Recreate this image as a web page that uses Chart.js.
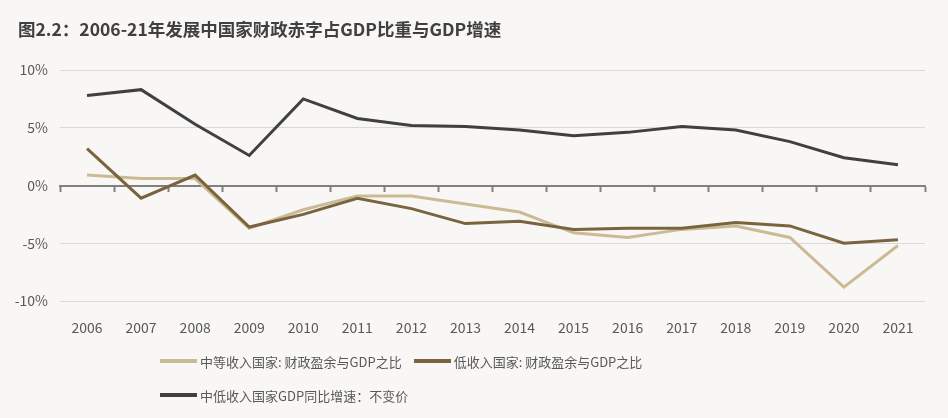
<!DOCTYPE html>
<html>
<head>
<meta charset="utf-8">
<script src="https://cdn.jsdelivr.net/npm/chart.js@4.4.0/dist/chart.umd.min.js"></script>
<style>
  html, body { margin: 0; padding: 0; background: #f8f7f5; }
  #wrap { position: relative; width: 948px; height: 418px; overflow: hidden; }
  #title { position: absolute; left: 18px; top: 16px; font: bold 17.5px "Noto Sans CJK SC", sans-serif; color: #404040; white-space: nowrap; }
  #chartCanvas { position: absolute; left: 0; top: 0; }
  #legend { position: absolute; left: 160px; top: 349px; font: 13px "Noto Sans CJK SC", sans-serif; color: #595959; }
  .row { display: flex; height: 34px; align-items: flex-start; }
  .item { display: flex; align-items: center; margin-right: 12px; height: 24px; white-space: nowrap; }
  .swatch { width: 37px; height: 4px; margin-right: 3px; }
</style>
</head>
<body>
<div id="wrap">
  <canvas id="chartCanvas" width="948" height="418"></canvas>
  <div id="title">图2.2：2006-21年发展中国家财政赤字占GDP比重与GDP增速</div>
  <div id="legend"></div>
</div>
<script>
// --- data ---
const years = ["2006", "2007", "2008", "2009", "2010", "2011", "2012", "2013",
  "2014", "2015", "2016", "2017", "2018", "2019", "2020", "2021"];

const midIncomeBalance = [0.9, 0.6, 0.6, -3.7, -2.1, -0.9, -0.9, -1.6,
  -2.3, -4.1, -4.5, -3.8, -3.5, -4.5, -8.8, -5.2];
const lowIncomeBalance = [3.2, -1.1, 0.9, -3.6, -2.5, -1.1, -2.0, -3.3,
  -3.1, -3.8, -3.7, -3.7, -3.2, -3.5, -5.0, -4.7];
const gdpGrowth = [7.8, 8.3, 5.3, 2.6, 7.5, 5.8, 5.2, 5.1,
  4.8, 4.3, 4.6, 5.1, 4.8, 3.8, 2.4, 1.8];

const seriesNames = [
  "中等收入国家: 财政盈余与GDP之比",
  "低收入国家: 财政盈余与GDP之比",
  "中低收入国家GDP同比增速：不变价"
];
const seriesColors = ["#cbbb95", "#7a6440", "#404040"];

const yTicks = [-10, -5, 0, 5, 10];

const tickFont = { family: "'Noto Sans CJK SC', sans-serif", size: 14 };

const canvas = document.getElementById("chartCanvas");

function lineSet(i, values, order) {
  return {
    label: seriesNames[i],
    data: values,
    borderColor: seriesColors[i],
    backgroundColor: seriesColors[i],
    borderWidth: 3,
    pointRadius: 0,
    tension: 0,
    order
  };
}

const chart = new Chart(canvas, {
  type: "line",
  data: {
    labels: years,
    datasets: [
      lineSet(0, midIncomeBalance, 3),
      lineSet(1, lowIncomeBalance, 2),
      lineSet(2, gdpGrowth, 1)
    ]
  },
  options: {
    responsive: false,
    animation: false,
    layout: { padding: { top: 70, right: 23, left: 0, bottom: 0 } },
    plugins: {
      legend: { display: false },
      title: { display: false },
      tooltip: { enabled: false }
    },
    scales: {
      x: {
        type: "category",
        position: "bottom",
        offset: true,
        grid: { display: false },
        border: { display: false },
        ticks: { color: "#595959", font: tickFont, padding: 10, maxRotation: 0 },
        afterFit: s => { s.height = 117; }
      },
      // zero line with tick marks between years
      x0: {
        type: "category",
        position: { y: 0 },
        offset: true,
        grid: {
          offset: true,
          drawOnChartArea: false,
          drawTicks: true,
          tickLength: 5,
          tickWidth: 2,
          tickColor: "#808080",
          color: "#808080"
        },
        border: { display: true, color: "#808080", width: 2 },
        ticks: { display: true, color: "rgba(0,0,0,0)", font: tickFont }
      },
      y: {
        min: -10,
        max: 10,
        afterBuildTicks: s => { s.ticks = yTicks.map(v => ({ value: v })); },
        grid: {
          color: c => (c.tick && c.tick.value === 0 ? "rgba(0,0,0,0)" : "#d9d9d9"),
          lineWidth: 1,
          drawTicks: false
        },
        border: { display: false },
        ticks: {
          color: "#595959",
          font: tickFont,
          padding: 12,
          callback: v => v + "%"
        },
        afterFit: s => { s.width = 60; }
      }
    }
  }
});

// --- legend built from the chart's datasets ---
const legendEl = document.getElementById("legend");
const rows = [[0, 1], [2]];
rows.forEach(r => {
  const row = document.createElement("div");
  row.className = "row";
  r.forEach(i => {
    const ds = chart.data.datasets[i];
    const item = document.createElement("div");
    item.className = "item";
    const sw = document.createElement("span");
    sw.className = "swatch";
    sw.style.background = ds.borderColor;
    const txt = document.createElement("span");
    txt.textContent = ds.label;
    item.appendChild(sw);
    item.appendChild(txt);
    row.appendChild(item);
  });
  legendEl.appendChild(row);
});
</script>
</body>
</html>
